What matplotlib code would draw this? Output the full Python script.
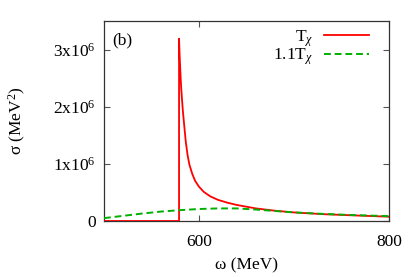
import matplotlib
matplotlib.use("Agg")
import matplotlib.pyplot as plt
from matplotlib.ticker import FixedLocator, FixedFormatter

plt.rcParams['font.family'] = ['Liberation Serif', 'DejaVu Serif']
plt.rcParams['mathtext.fontset'] = 'custom'
plt.rcParams['mathtext.rm'] = 'Liberation Serif'
plt.rcParams['mathtext.it'] = 'Liberation Serif:italic'

# data (sigma in units of 1e6 MeV^2)
w_red = [500, 579, 579, 579.5, 580, 581, 582, 583, 584, 586, 588, 590, 593, 596, 600, 605,
         612, 620, 630, 640, 660, 680, 700, 730, 760, 800]
s_red = [0, 0, 3.19, 2.95, 2.75, 2.4, 2.15, 1.93, 1.75, 1.4, 1.15, 0.98, 0.82, 0.7, 0.6, 0.51,
         0.43, 0.37, 0.32, 0.28, 0.22, 0.18, 0.15, 0.12, 0.10, 0.075]
w_green = [500, 520, 540, 560, 580, 600, 620, 640, 660, 680, 700, 730, 760, 800]
s_green = [0.05, 0.09, 0.13, 0.165, 0.19, 0.21, 0.22, 0.22, 0.20, 0.175, 0.15,
           0.125, 0.105, 0.085]
xticks = [600, 800]
xticklabels = ['600', '800']
yticks = [0, 1e6, 2e6, 3e6]
yticklabels = ['0', r'1x10$^{6}$', r'2x10$^{6}$', r'3x10$^{6}$']

fig = plt.figure(figsize=(4.15, 2.77), dpi=100)
ax = fig.add_axes([104/415, 1-221/277, 285/415, 200/277])

ax.plot(w_red, [v*1e6 for v in s_red], color='#ff0000', lw=1.3, label=r'T$_\chi$', zorder=3)
ax.plot(w_green, [v*1e6 for v in s_green], color='#00b000', lw=1.4, ls=(0, (3.5, 2)),
        label=r'1.1T$_\chi$', zorder=4)

ax.set_xlim(500, 800)
ax.set_ylim(0, 3.5e6)
ax.xaxis.set_major_locator(FixedLocator(xticks))
ax.xaxis.set_major_formatter(FixedFormatter(xticklabels))
ax.yaxis.set_major_locator(FixedLocator(yticks))
ax.yaxis.set_major_formatter(FixedFormatter(yticklabels))
ax.tick_params(axis='both', direction='in', top=True, right=True, length=4, width=0.8,
               labelsize=12.5, colors='#555555', labelcolor='black')
ax.tick_params(axis='x', pad=9)
ax.tick_params(axis='y', pad=6)
for sp in ax.spines.values():
    sp.set_linewidth(0.9)
    sp.set_color('#333333')

ax.set_xlabel(r'ω (MeV)', fontsize=12.5, labelpad=6)
ax.set_ylabel(r'σ (MeV$^2$)', fontsize=12.5, labelpad=18)

ax.text(0.03, 0.885, '(b)', transform=ax.transAxes, fontsize=12.5)

leg = ax.legend(loc='upper right', markerfirst=False, frameon=False, fontsize=12.5,
                handlelength=2.6, handletextpad=0.63, labelspacing=-0.1,
                borderpad=0, borderaxespad=0, bbox_to_anchor=(1-20/285, 1-7/200))
for t in leg.get_texts():
    t.set_ha('right')

fig.savefig('out.png', dpi=100)
